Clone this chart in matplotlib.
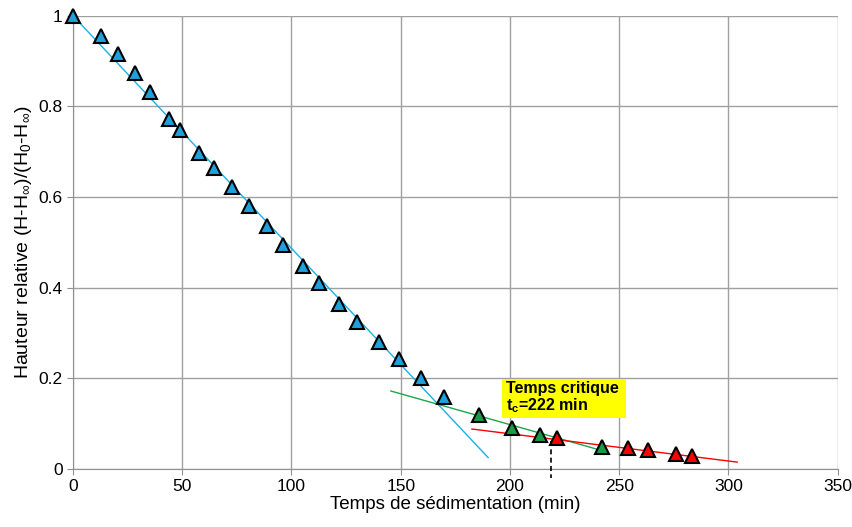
import numpy as np
import matplotlib.pyplot as plt

plt.rcParams['font.family'] = ['Liberation Sans', 'DejaVu Sans']
plt.rcParams['mathtext.fontset'] = 'custom'
plt.rcParams['mathtext.rm'] = 'Liberation Sans'
plt.rcParams['mathtext.it'] = 'Liberation Sans:italic'
plt.rcParams['mathtext.bf'] = 'Liberation Sans:bold'

# phase 1 (blue)
t_blue = [0, 12.8, 20.5, 28.3, 35.2, 43.8, 48.8, 57.5, 64.4, 72.6, 80.4, 88.6,
          96.3, 105.4, 112.7, 121.9, 130.1, 140.1, 149.3, 159.4, 169.8]
h_blue = [1.0, 0.956, 0.916, 0.874, 0.832, 0.773, 0.748, 0.698, 0.664, 0.622, 0.581,
          0.536, 0.494, 0.448, 0.411, 0.364, 0.325, 0.280, 0.243, 0.201, 0.159]
# phase 2 (green)
t_green = [185.8, 200.9, 213.7, 242.0]
h_green = [0.119, 0.091, 0.075, 0.049]
# phase 3 (red)
t_red = [221.5, 254.2, 263.0, 276.2, 283.5]
h_red = [0.068, 0.046, 0.042, 0.033, 0.029]

# trend lines: (x start, x end, slope, intercept)
fit_blue = (0, 190, -0.00513, 1.0)
fit_green = (145.5, 242.7, -0.00136, 0.370)
fit_red = (182.6, 304, -0.000601, 0.198)
t_crit = 219

fig = plt.figure(figsize=(8.53, 5.27), dpi=100)
ax = fig.add_axes([0.0856, 0.110, 0.8964, 0.860])

for (x0, x1, a, b), c in [(fit_blue, '#1AB0E8'), (fit_green, '#19A84B'), (fit_red, '#FF0000')]:
    xs = np.array([x0, x1])
    ax.plot(xs, a * xs + b, color=c, lw=1.0, zorder=3)

for t, h, c in [(t_blue, h_blue, '#1FA0DA'), (t_green, h_green, '#1A9A45'), (t_red, h_red, '#FF0000')]:
    ax.plot(t, h, '^', ms=10.5, mfc=c, mec='black', mew=1.5, zorder=4, clip_on=False)

ax.plot([t_crit, t_crit], [0.062, -0.02], color='black', ls=(0, (3, 2)), lw=1.2,
        clip_on=False, zorder=5)

ax.text(198, 0.157, 'Temps critique \nt$_\\mathbf{c}$=222 min', fontsize=11.5,
        fontweight='bold', va='center', ha='left', linespacing=1.0,
        bbox=dict(facecolor='#FFFF00', edgecolor='none', pad=2.5), zorder=6)

ax.set_xlim(0, 350)
ax.set_ylim(0, 1)
ax.set_xticks(np.arange(0, 351, 50))
ax.set_yticks([0, 0.2, 0.4, 0.6, 0.8, 1])
ax.set_yticklabels(['0', '0.2', '0.4', '0.6', '0.8', '1'])
ax.grid(True, color='#A0A0A0', lw=1.0)
ax.set_axisbelow(True)
for s in ['top', 'right']:
    ax.spines[s].set_visible(False)
for s in ['left', 'bottom']:
    ax.spines[s].set_color('#909090')
ax.tick_params(colors='#909090', labelcolor='black', labelsize=12.5, length=4)

ax.set_xlabel('Temps de sédimentation (min)', fontsize=13.5, labelpad=1)
ax.set_ylabel('Hauteur relative (H-H$_{\\infty}$)/(H$_0$-H$_{\\infty}$)', fontsize=14, labelpad=3)

fig.savefig('out.png', dpi=100)
